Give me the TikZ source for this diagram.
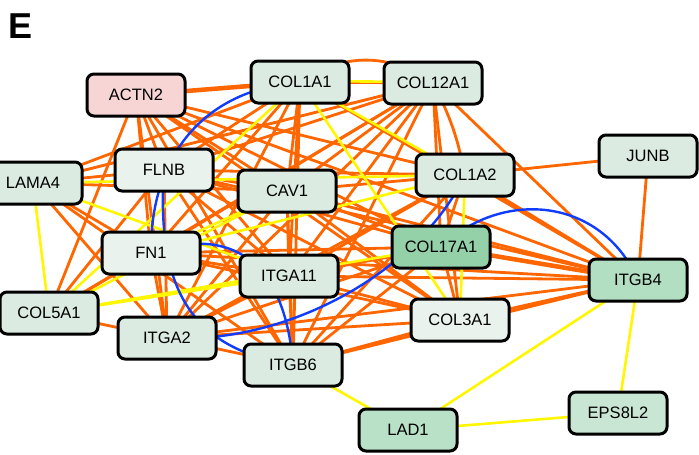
\documentclass[tikz,border=0pt]{standalone}
\usepackage{fontspec}
\setmainfont{Liberation Sans}
\pgfdeclarelayer{edges}
\pgfsetlayers{edges,main}

\definecolor{ppiorange}{RGB}{255,102,0}
\definecolor{ppiyellow}{RGB}{255,246,0}
\definecolor{ppiblue}{RGB}{15,60,255}
\definecolor{pinkfill}{RGB}{247,213,213}
\definecolor{palefill}{RGB}{233,242,236}
\definecolor{lightfill}{RGB}{219,235,225}
\definecolor{midfill}{RGB}{200,230,211}
\definecolor{ladfill}{RGB}{185,225,199}
\definecolor{b4fill}{RGB}{178,222,194}
\definecolor{darkfill}{RGB}{148,209,169}

\tikzset{
  gene/.style={draw=black, line width=3pt, rounded corners=7pt, fill=lightfill,
    minimum width=98pt, minimum height=42pt, inner sep=0pt,
    font=\fontsize{16.5}{19}\selectfont},
  orangeedge/.style={ppiorange, line width=2.8pt},
  yellowedge/.style={ppiyellow, line width=2.6pt},
  blueedge/.style={ppiblue, line width=2.4pt}
}

\begin{document}
\begin{tikzpicture}[x=1pt, y=-1pt]
    \useasboundingbox (0,0) rectangle (699,455);
    % panel letter
    \node[font=\fontsize{36}{40}\selectfont\bfseries] (panel) at (21,26) {E};

    % gene nodes
    \node[gene, fill=pinkfill] (actn2)   at (136,95)  {ACTN2};
    \node[gene]                (col1a1)  at (300,82)  {COL1A1};
    \node[gene]                (col12a1) at (433,83)  {COL12A1};
    \node[gene]                (junb)    at (648,156) {JUNB};
    \node[gene]                (lama4)   at (33,183)  {LAMA4};
    \node[gene, fill=palefill] (flnb)    at (164,170) {FLNB};
    \node[gene]                (cav1)    at (287,191) {CAV1};
    \node[gene]                (col1a2)  at (465,175) {COL1A2};
    \node[gene, fill=palefill] (fn1)     at (151,253) {FN1};
    \node[gene]                (itga11)  at (289,276) {ITGA11};
    \node[gene, fill=darkfill] (col17a1) at (441,247) {COL17A1};
    \node[gene, fill=b4fill]   (itgb4)   at (638,280) {ITGB4};
    \node[gene]                (col5a1)  at (49,313)  {COL5A1};
    \node[gene]                (itga2)   at (167,338) {ITGA2};
    \node[gene, fill=palefill] (col3a1)  at (460,320) {COL3A1};
    \node[gene]                (itgb6)   at (293,365) {ITGB6};
    \node[gene, fill=ladfill]  (lad1)    at (408,430) {LAD1};
    \node[gene, fill=midfill]  (eps8l2)  at (618,413) {EPS8L2};

    \begin{pgfonlayer}{edges}
    % orange edges
    \foreach \s/\t in {actn2/flnb, actn2/cav1, actn2/col1a2, actn2/fn1, actn2/itga11,
        actn2/col17a1, actn2/itgb4, actn2/col5a1, actn2/itga2, actn2/col3a1, actn2/itgb6,
        col1a1/flnb, col1a1/cav1, col1a1/fn1, col1a1/itga11, col1a1/itgb4, col1a1/itga2,
        col1a1/itgb6, col1a1/lama4, col1a1/col12a1,
        col12a1/flnb, col12a1/cav1, col12a1/fn1, col12a1/itga11, col12a1/itga2,
        col12a1/col17a1, col12a1/col3a1, col12a1/itgb6, col12a1/lama4, col12a1/col5a1,
        col12a1/itgb4,
        flnb/cav1, flnb/col1a2, flnb/itga11, flnb/col17a1, flnb/itgb4, flnb/col5a1,
        flnb/itga2, flnb/col3a1, flnb/itgb6, flnb/lama4,
        cav1/col1a2, cav1/itga11, cav1/col17a1, cav1/itgb4, cav1/itga2, cav1/col3a1,
        cav1/itgb6, cav1/lama4,
        col1a2/itga11, col1a2/col17a1, col1a2/itgb4, col1a2/itga2, col1a2/itgb6, col1a2/junb,
        fn1/itga11, fn1/col17a1, fn1/itgb4, fn1/col5a1, fn1/itga2, fn1/col3a1, fn1/lama4,
        itga11/col17a1, itga11/itgb4, itga11/itga2, itga11/col3a1, itga11/itgb6,
        col17a1/itga2, col17a1/col3a1, col17a1/itgb6,
        itgb4/col3a1, itgb4/itga2, itgb4/itgb6, itgb4/junb,
        col5a1/itga2, itga2/col3a1, itga2/itgb6, col3a1/itgb6,
        lama4/itga2, lama4/itgb6}
      \draw[orangeedge] (\s.center) -- (\t.center);
    \draw[orangeedge, line width=4.5pt] (actn2.center) -- (col1a1.center);
    \draw[orangeedge, line width=4.5pt] (col17a1.center) -- (itgb4.center);
    \draw[orangeedge] (col1a1.center) to[bend left=35] (col12a1.center);
    \draw[orangeedge] (col12a1.center) to[bend left=8] (col1a2.center);

    % yellow edges
    \foreach \s/\t in {col1a1/col3a1, col1a1/col1a2, col1a1/col5a1, lama4/col1a2,
        lama4/itga11, lama4/col5a1, col1a2/col3a1, fn1/cav1, fn1/col1a2,
        col5a1/cav1, col5a1/col17a1, col5a1/itga11,
        itgb6/lad1, itgb4/lad1, itgb4/eps8l2, lad1/eps8l2}
      \draw[yellowedge] (\s.center) -- (\t.center);
    \draw[yellowedge] ([yshift=1pt]col1a1.center) -- ([yshift=1pt]col12a1.center);

    % blue edges
    \draw[blueedge] (col1a1.center) .. controls (200,90) and (150,160) .. (fn1.center);
    \draw[blueedge] (flnb.center) .. controls (155,300) and (200,350) .. (itgb6.center);
    \draw[blueedge] (fn1.center) .. controls (230,225) and (285,260) .. (itgb6.center);
    \draw[blueedge] (col1a2.center) .. controls (420,270) and (290,345) .. (itga2.center);
    \draw[blueedge] (col17a1.center) .. controls (500,190) and (600,195) .. (itgb4.center);
    \end{pgfonlayer}
\end{tikzpicture}
\end{document}
